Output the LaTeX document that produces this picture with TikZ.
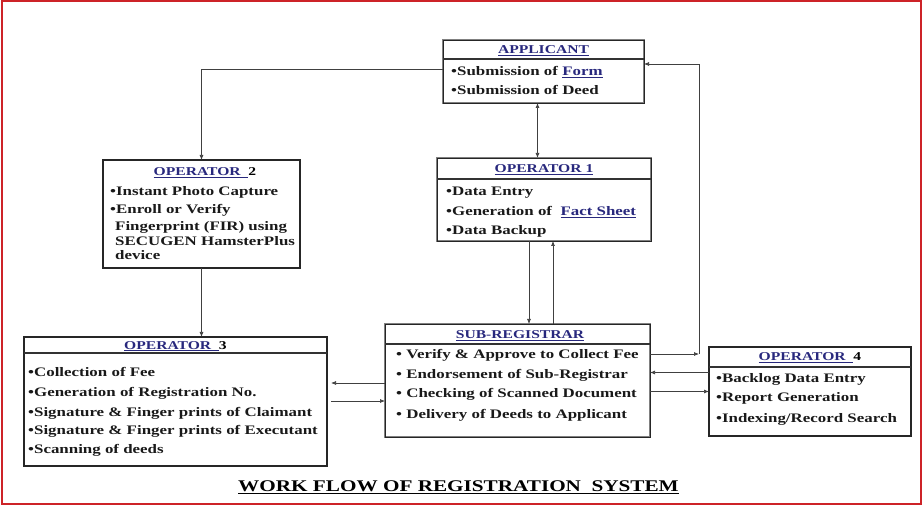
\documentclass[tikz,border=0pt]{standalone}
\usepackage{fontspec}
\setmainfont{Liberation Serif}[FakeStretch=1.3]
\usetikzlibrary{arrows.meta}
\definecolor{navy}{RGB}{40,40,125}
\definecolor{framered}{RGB}{205,35,40}
\begin{document}
\begin{tikzpicture}[x=1pt,y=-1pt,
  >={Latex[length=5pt,width=4pt]},
  fancy/.style={draw=black!50, line width=2.6pt, postaction={draw=black!85, line width=0.7pt}, anchor=north west, inner sep=0pt, outer sep=0pt},
  plain/.style={draw=black!85, line width=1.4pt, anchor=north west, inner sep=0pt, outer sep=0pt},
  divider/.style={draw=black!80, line width=1.2pt},
  ttl/.style={font=\bfseries\fontsize{12}{14}\selectfont, text=navy, inner sep=0pt, anchor=base},
  itm/.style={font=\bfseries\fontsize{13}{15}\selectfont, inner sep=0pt, anchor=base west, text=black!90},
  conn/.style={draw=black!75, line width=0.7pt},
]
\useasboundingbox (0,0) rectangle (922,505);
\draw[framered, line width=2pt] (1.5,1.5) rectangle (920.5,503.5);

% boxes
\node[fancy, minimum width=201pt, minimum height=63pt] (app) at (443,40) {};
\node[fancy, minimum width=214pt, minimum height=83pt] (op1) at (437,158) {};
\node[plain, minimum width=197pt, minimum height=108pt] (op2) at (103,160) {};
\node[plain, minimum width=303pt, minimum height=129pt] (op3) at (24,337) {};
\node[fancy, minimum width=265pt, minimum height=113pt] (sr) at (385,324) {};
\node[plain, minimum width=202pt, minimum height=89pt] (op4) at (709,347) {};

% dividers
\draw[divider] ([yshift=-19pt]app.north west) -- ([yshift=-19pt]app.north east);
\draw[divider] ([yshift=-21pt]op1.north west) -- ([yshift=-21pt]op1.north east);
\draw[divider] ([yshift=-16pt]op3.north west) -- ([yshift=-16pt]op3.north east);
\draw[divider] ([yshift=-20pt]sr.north west) -- ([yshift=-20pt]sr.north east);
\draw[divider] ([yshift=-20pt]op4.north west) -- ([yshift=-20pt]op4.north east);

% APPLICANT
\node[ttl] (appT) at (543.5,54) {\underline{APPLICANT}};
\node[itm] (app1) at (451,76) {•Submission of \textcolor{navy}{\underline{Form}}};
\node[itm] (app2) at (451,95) {•Submission of Deed};

% OPERATOR 1
\node[ttl] (op1T) at (544,173) {\underline{OPERATOR 1}};
\node[itm] (op1a) at (446,196) {•Data Entry};
\node[itm] (op1b) at (446,216) {•Generation of\ \ \textcolor{navy}{\underline{Fact Sheet}}};
\node[itm] (op1c) at (446,235) {•Data Backup};

% OPERATOR 2
\node[ttl] (op2T) at (205,176) {\underline{OPERATOR\ \ }\textcolor{black}{2}};
\node[itm] (op2a) at (110,195.5) {•Instant Photo Capture};
\node[itm] (op2b) at (110,214) {•Enroll or Verify};
\node[itm] (op2c) at (115,231) {Fingerprint (FIR) using};
\node[itm] (op2d) at (115,246) {SECUGEN HamsterPlus};
\node[itm] (op2e) at (115,260) {device};

% OPERATOR 3
\node[ttl] (op3T) at (175.5,349) {\underline{OPERATOR\ \ }\textcolor{black}{3}};
\node[itm] (op3a) at (28,377) {•Collection of Fee};
\node[itm] (op3b) at (28,396) {•Generation of Registration No.};
\node[itm] (op3c) at (28,416) {•Signature \& Finger prints of Claimant};
\node[itm] (op3d) at (28,435) {•Signature \& Finger prints of Executant};
\node[itm] (op3e) at (28,453) {•Scanning of deeds};

% SUB-REGISTRAR
\node[ttl] (srT) at (520,339) {\underline{SUB-REGISTRAR}};
\node[itm] (sra) at (396,359) {• Verify \& Approve to Collect Fee};
\node[itm] (srb) at (396,378) {• Endorsement of Sub-Registrar};
\node[itm] (src) at (396,398) {• Checking of Scanned Document};
\node[itm] (srd) at (396,418) {• Delivery of Deeds to Applicant};

% OPERATOR 4
\node[ttl] (op4T) at (810,361) {\underline{OPERATOR\ \ }\textcolor{black}{4}};
\node[itm] (op4a) at (716,382) {•Backlog Data Entry};
\node[itm] (op4b) at (716,402) {•Report Generation};
\node[itm] (op4c) at (716,422) {•Indexing/Record Search};

% main title
\node[font=\bfseries\fontsize{16.3}{18}\selectfont, inner sep=0pt, anchor=base] (title) at (458.5,491.5) {\underline{WORK FLOW OF REGISTRATION\ \ SYSTEM}};

% connectors
\draw[conn,->] ([yshift=2.5pt]app.west) -| (op2.north);
\draw[conn,<->] ([xshift=-6pt]app.south) -- ([xshift=-6pt]app.south |- op1.north);
\draw[conn,->] ([xshift=-15pt]op1.south) -- ([xshift=-15pt]op1.south |- sr.north);
\draw[conn,->] ([xshift=9pt]op1.south |- sr.north) -- ([xshift=9pt]op1.south);
\draw[conn,->] (op2.south) -- (op2.south |- op3.north);
\draw[conn,->,shorten >=4pt] ([yshift=-2.5pt]sr.west) -- ([yshift=-2.5pt]sr.west -| op3.east);
\draw[conn,->,shorten <=4pt] ([yshift=-20.5pt]sr.west -| op3.east) -- ([yshift=-20.5pt]sr.west);
\coordinate (k) at (699,354);
\draw[conn,->] (k -| sr.east) -- (k);
\draw[conn,->] (k) |- ([yshift=7.5pt]app.east);
\draw[conn,->] ([yshift=19pt]op4.west) -- ([yshift=19pt]op4.west -| sr.east);
\draw[conn,->] (op4.west -| sr.east) -- (op4.west);
\end{tikzpicture}
\end{document}
